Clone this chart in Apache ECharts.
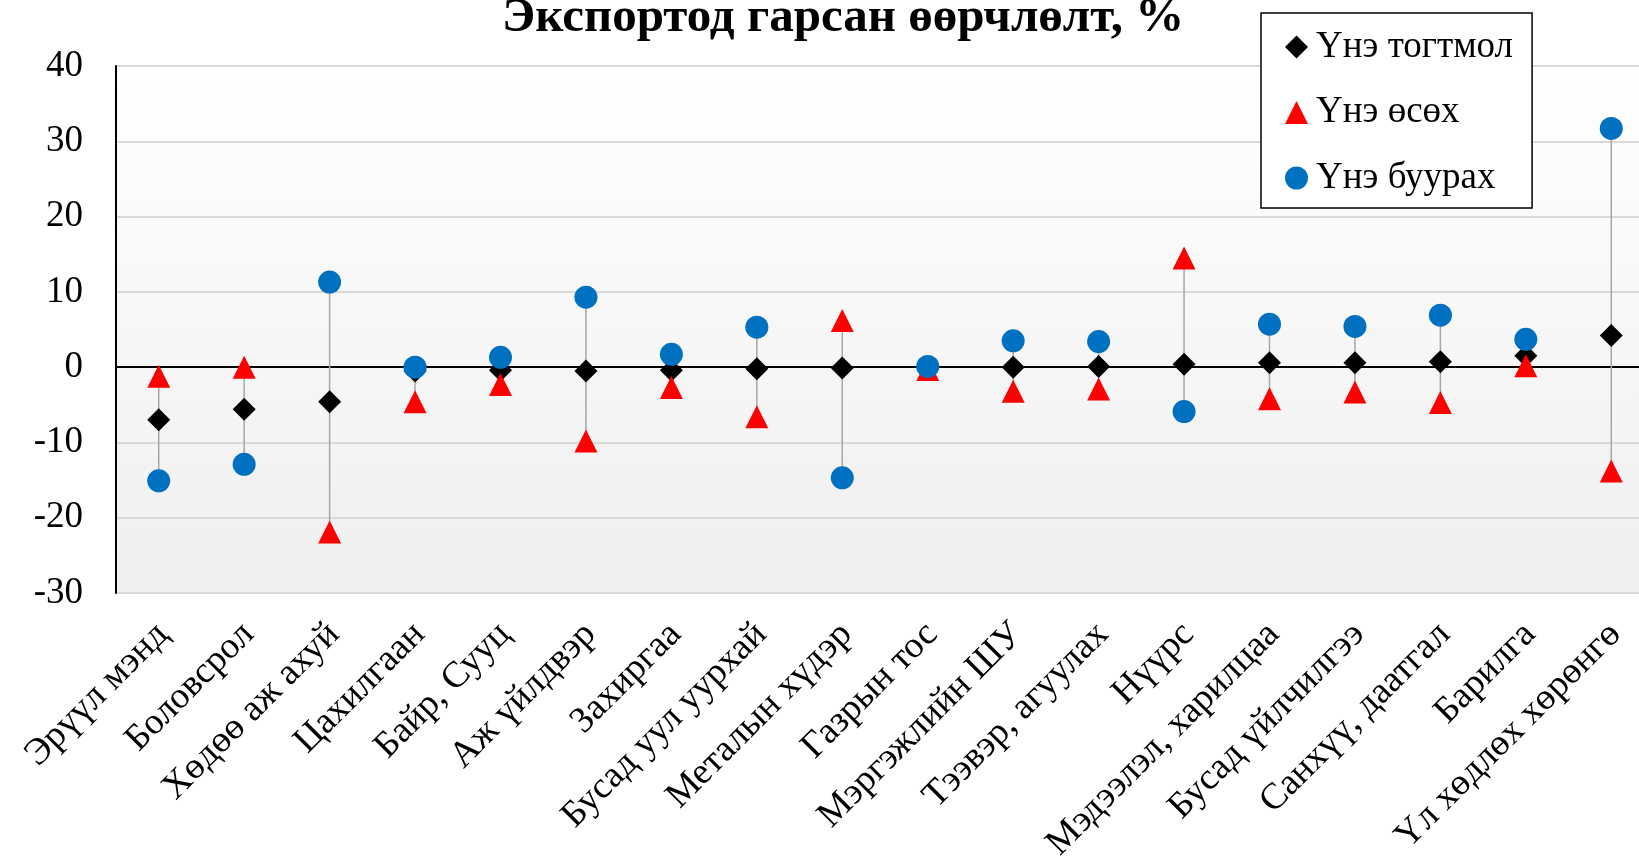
<!DOCTYPE html>
<html>
<head>
<meta charset="utf-8">
<title>Экспортод гарсан өөрчлөлт</title>
<script src="https://cdn.jsdelivr.net/npm/echarts@6/dist/echarts.min.js"></script>
<style>
  html, body { margin: 0; padding: 0; background: #fff; }
  #main { width: 1639px; height: 867px; }
</style>
</head>
<body>
<div id="main"></div>
<script>
const categories = ['Эрүүл мэнд', 'Боловсрол', 'Хөдөө аж ахуй', 'Цахилгаан', 'Байр, Сууц',
  'Аж үйлдвэр', 'Захиргаа', 'Бусад уул уурхай', 'Металын хүдэр', 'Газрын тос',
  'Мэргэжлийн ШУ', 'Тээвэр, агуулах', 'Нүүрс', 'Мэдээлэл, харилцаа', 'Бусад үйлчилгээ',
  'Санхүү, даатгал', 'Барилга', 'Үл хөдлөх хөрөнгө'];
const constPrice = [-7.0, -5.6, -4.6, -0.5, -0.4, -0.5, -0.4, -0.2, -0.1, 0.0, 0.0, 0.1, 0.4, 0.6, 0.6, 0.7, 1.5, 4.2];
const priceUp    = [-1.2, 0.0, -21.9, -4.6, -2.3, -9.8, -2.7, -6.6, 6.2, -0.3, -3.2, -2.9, 14.5, -4.2, -3.3, -4.7, 0.2, -13.8];
const priceDown  = [-15.1, -12.9, 11.3, 0.0, 1.3, 9.3, 1.7, 5.3, -14.7, 0.1, 3.5, 3.4, -5.9, 5.7, 5.4, 6.9, 3.7, 31.7];
const yTicks = { min: -30, max: 40, step: 10 };

const FONT = "'Liberation Serif', 'Times New Roman', serif";

// high-low ranges for the gray connectors
const ranges = categories.map((c, i) => {
  const v = [constPrice[i], priceUp[i], priceDown[i]];
  return [i, Math.min(...v), Math.max(...v)];
});

const chart = echarts.init(document.getElementById('main'));
chart.setOption({
  animation: false,
  backgroundColor: '#fff',
  title: {
    text: 'Экспортод гарсан өөрчлөлт, %',
    left: 497, top: -11,
    textStyle: { fontFamily: FONT, fontSize: 49, fontWeight: 'bold', color: '#000' }
  },
  legend: {
    orient: 'vertical',
    left: 1261, top: 13,
    padding: [14, 19, 10, 24],
    itemWidth: 23, itemHeight: 23, itemGap: 25.5,
    backgroundColor: '#fff',
    borderColor: '#000', borderWidth: 1.5, borderRadius: 0,
    textStyle: { fontFamily: FONT, fontSize: 37, color: '#000', lineHeight: 40, padding: [0, 0, 0, 3] },
    data: ['Үнэ тогтмол', 'Үнэ өсөх', 'Үнэ буурах']
  },
  grid: {
    left: 116, top: 66, bottom: 274, width: 1538,
    outerBoundsMode: 'none',
    show: true, borderWidth: 0,
    backgroundColor: new echarts.graphic.LinearGradient(0, 0, 0, 1, [
      { offset: 0, color: '#ffffff' }, { offset: 1, color: '#efefef' }
    ])
  },
  xAxis: {
    type: 'category',
    data: categories,
    axisLine: { onZero: true, lineStyle: { color: '#000', width: 2 } },
    axisTick: { show: false },
    axisLabel: {
      rotate: 45, margin: 40, interval: 0, padding: [0, -6, 0, 0],
      fontFamily: FONT, fontSize: 37, color: '#000'
    }
  },
  yAxis: {
    type: 'value',
    min: yTicks.min, max: yTicks.max, interval: yTicks.step,
    axisLine: { show: true, lineStyle: { color: '#000', width: 2 } },
    axisTick: { show: false },
    axisLabel: { margin: 33, fontFamily: FONT, fontSize: 37, color: '#000' },
    splitLine: { lineStyle: { color: '#d9d9d9', width: 2 } }
  },
  series: [
    {
      type: 'custom',
      silent: true,
      encode: { x: 0, y: [1, 2] },
      data: ranges,
      renderItem: function (params, api) {
        const p1 = api.coord([api.value(0), api.value(1)]);
        const p2 = api.coord([api.value(0), api.value(2)]);
        return {
          type: 'line',
          shape: { x1: p1[0], y1: p1[1], x2: p2[0], y2: p2[1] },
          style: { stroke: '#a6a6a6', lineWidth: 1.5 }
        };
      },
      z: 1
    },
    {
      name: 'Үнэ тогтмол', type: 'scatter', data: constPrice,
      symbol: 'diamond', symbolSize: 23,
      itemStyle: { color: '#000', opacity: 1 }, z: 2
    },
    {
      name: 'Үнэ өсөх', type: 'scatter', data: priceUp,
      symbol: 'triangle', symbolSize: 23,
      itemStyle: { color: '#ff0000', opacity: 1 }, z: 3
    },
    {
      name: 'Үнэ буурах', type: 'scatter', data: priceDown,
      symbol: 'circle', symbolSize: 23,
      itemStyle: { color: '#0070c0', opacity: 1 }, z: 4
    }
  ]
});
</script>
</body>
</html>
